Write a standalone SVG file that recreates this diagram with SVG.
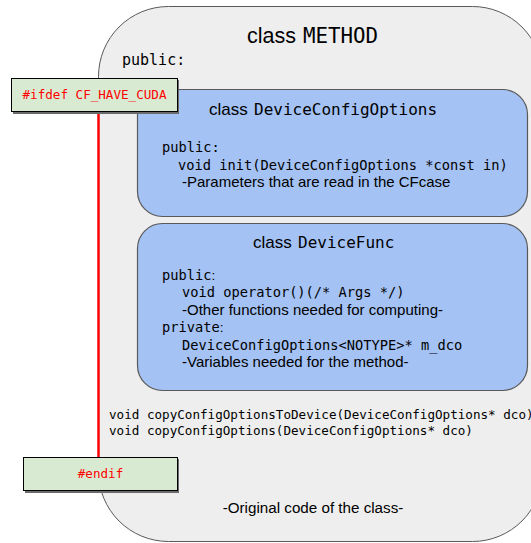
<svg xmlns="http://www.w3.org/2000/svg" width="531" height="543" viewBox="0 0 531 543">
  <style>
    .sans { font-family: "Liberation Sans", Arial, sans-serif; fill: #000; }
    .mono { font-family: "DejaVu Sans Mono", "Liberation Mono", monospace; fill: #000; }
    .cls { fill: #eeeeee; stroke: #595959; stroke-width: 1; }
    .inner { fill: #a4c2f4; stroke: #595959; stroke-width: 1.2; }
    .guard { fill: #d9ead3; stroke: #000; stroke-width: 1; }
    .guard-shadow { fill: #6b6b6b; }
    .guard-text { font-family: "DejaVu Sans Mono", "Liberation Mono", monospace; font-size: 12.6px; fill: #ff0000; text-anchor: middle; }
    .body { font-size: 13.7px; }
    .note { font-size: 15px; }
  </style>

  <!-- outer class container -->
  <g id="method">
    <rect class="cls" x="98.5" y="6.5" width="444" height="535" rx="70" ry="70"/>
    <text x="247" y="43"><tspan class="sans" font-size="21.5">class</tspan><tspan class="mono" x="303" font-size="20.8">METHOD</tspan></text>
    <text class="mono" x="122" y="65" font-size="15">public:</text>
    <text class="mono" x="109" y="419" font-size="12.6">void copyConfigOptionsToDevice(DeviceConfigOptions* dco)</text>
    <text class="mono" x="109" y="435" font-size="12.6">void copyConfigOptions(DeviceConfigOptions* dco)</text>
    <text class="sans" x="313" y="513" font-size="15.2" text-anchor="middle">-Original code of the class-</text>
  </g>

  <!-- nested configuration options class -->
  <g id="deviceConfigOptions">
    <rect class="inner" x="137.5" y="89.5" width="390" height="127" rx="25" ry="25"/>
    <text x="209" y="115"><tspan class="sans" font-size="17">class</tspan><tspan class="mono" x="254" font-size="16">DeviceConfigOptions</tspan></text>
    <text class="mono body" x="162" y="152">public:</text>
    <text class="mono body" x="178" y="170">void init(DeviceConfigOptions *const in)</text>
    <text class="sans note" x="182" y="187">-Parameters that are read in the CFcase</text>
  </g>

  <!-- nested device functor class -->
  <g id="deviceFunc">
    <rect class="inner" x="137.5" y="223.5" width="390" height="167" rx="25" ry="25"/>
    <text x="253" y="248"><tspan class="sans" font-size="17">class</tspan><tspan class="mono" x="298" font-size="16">DeviceFunc</tspan></text>
    <text class="mono body" x="162" y="280">public<tspan class="sans">:</tspan></text>
    <text class="mono body" x="182" y="297">void operator()(/* Args */)</text>
    <text class="sans note" x="182" y="315">-Other functions needed for computing-</text>
    <text class="mono body" x="162" y="332">private<tspan class="sans">:</tspan></text>
    <text class="mono body" x="182" y="350">DeviceConfigOptions&lt;NOTYPE&gt;* m_dco</text>
    <text class="sans note" x="182" y="367">-Variables needed for the method-</text>
  </g>

  <!-- preprocessor guard span -->
  <g id="connectors">
    <line x1="98.5" y1="112" x2="98.5" y2="457" stroke="#ff0000" stroke-width="2.5"/>
  </g>

  <g id="ifdef">
    <rect class="guard-shadow" x="13" y="80" width="166" height="34"/>
    <rect class="guard" x="11.5" y="78.5" width="166" height="33"/>
    <text class="guard-text" x="94.5" y="99">#ifdef CF_HAVE_CUDA</text>
  </g>

  <g id="endif">
    <rect class="guard-shadow" x="25" y="459" width="154" height="34"/>
    <rect class="guard" x="23.5" y="457.5" width="154" height="33"/>
    <text class="guard-text" x="100.5" y="478">#endif</text>
  </g>
</svg>
